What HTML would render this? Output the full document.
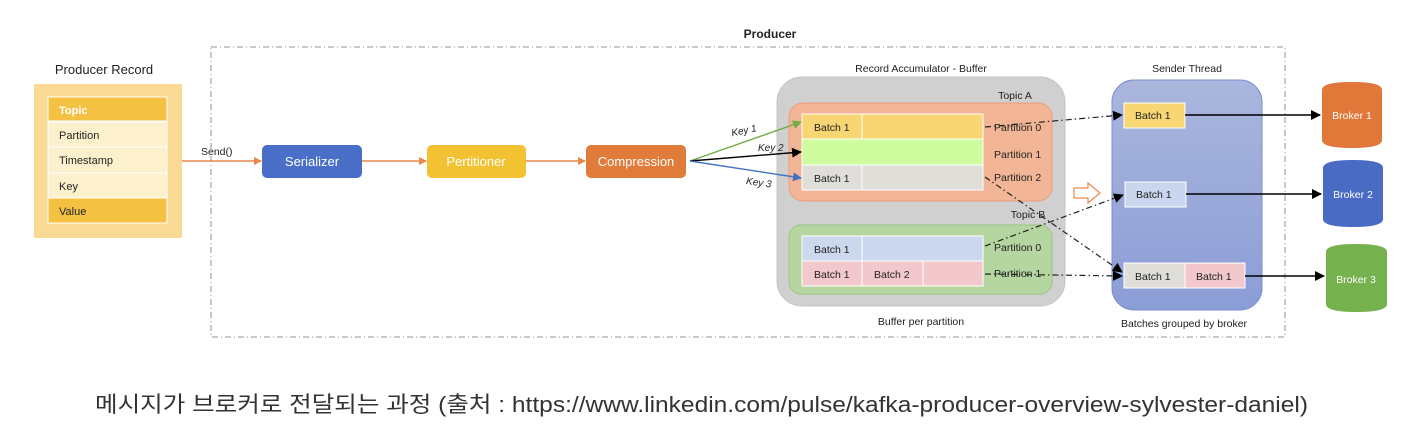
<!DOCTYPE html>
<html><head><meta charset="utf-8"><style>
html,body{margin:0;padding:0;background:#fff;}
svg{display:block;font-family:"Liberation Sans","Noto Sans CJK KR",sans-serif;}
</style></head><body>
<svg width="1402" height="432" viewBox="0 0 1402 432" xmlns="http://www.w3.org/2000/svg">
<defs>
<marker id="ao" markerWidth="8" markerHeight="8" refX="7" refY="4" orient="auto" markerUnits="userSpaceOnUse"><path d="M0,0 L8,4 L0,8z" fill="#e9874a"/></marker>
<marker id="ab" markerWidth="10" markerHeight="10" refX="9" refY="5" orient="auto" markerUnits="userSpaceOnUse"><path d="M0,0 L10,5 L0,10z" fill="#000"/></marker>
<marker id="ag" markerWidth="9" markerHeight="9" refX="8" refY="4.5" orient="auto" markerUnits="userSpaceOnUse"><path d="M0,0 L9,4.5 L0,9z" fill="#70ad47"/></marker>
<marker id="abl" markerWidth="9" markerHeight="9" refX="8" refY="4.5" orient="auto" markerUnits="userSpaceOnUse"><path d="M0,0 L9,4.5 L0,9z" fill="#4472c4"/></marker>
<linearGradient id="gs" x1="0" y1="0" x2="0" y2="1"><stop offset="0" stop-color="#aab6dd"/><stop offset="1" stop-color="#8b9dd6"/></linearGradient>
</defs>

<rect x="211" y="47" width="1074" height="290" fill="none" stroke="#aaa" stroke-width="1.3" stroke-dasharray="6,3,1,3"/>
<text x="770" y="38" font-size="12" font-weight="bold" text-anchor="middle" fill="#222">Producer</text>

<text x="104" y="74" font-size="13" text-anchor="middle" fill="#222">Producer Record</text>
<rect x="34" y="84" width="148" height="154" fill="#f9d993"/>
<rect x="48" y="97" width="119" height="24" fill="#f4c143" stroke="#fff"/>
<rect x="48" y="122" width="119" height="25" fill="#fdf0cc" stroke="#fff"/>
<rect x="48" y="147" width="119" height="26" fill="#fdf0cc" stroke="#fff"/>
<rect x="48" y="173" width="119" height="25" fill="#fdf0cc" stroke="#fff"/>
<rect x="48" y="198" width="119" height="25" fill="#f4c143" stroke="#fff"/>
<g font-size="11" fill="#222">
<text x="59" y="114" font-weight="bold" fill="#fff">Topic</text>
<text x="59" y="139">Partition</text>
<text x="59" y="164">Timestamp</text>
<text x="59" y="190">Key</text>
<text x="59" y="215">Value</text>
</g>

<text x="201" y="155" font-size="10.5" fill="#222">Send()</text>
<line x1="182" y1="161" x2="261" y2="161" stroke="#e9874a" stroke-width="1.5" marker-end="url(#ao)"/>
<rect x="262" y="145" width="100" height="33" rx="5" fill="#4a6fc9"/>
<text x="312" y="166" font-size="13" fill="#fff" text-anchor="middle">Serializer</text>
<line x1="362" y1="161" x2="426" y2="161" stroke="#e9874a" stroke-width="1.5" marker-end="url(#ao)"/>
<rect x="427" y="145" width="99" height="33" rx="5" fill="#f2c232"/>
<text x="476" y="166" font-size="13" fill="#fff" text-anchor="middle">Pertitioner</text>
<line x1="526" y1="161" x2="585" y2="161" stroke="#e9874a" stroke-width="1.5" marker-end="url(#ao)"/>
<rect x="586" y="145" width="100" height="33" rx="5" fill="#e07b3a"/>
<text x="636" y="166" font-size="13" fill="#fff" text-anchor="middle">Compression</text>

<text x="921" y="72" font-size="10.5" text-anchor="middle" fill="#222">Record Accumulator - Buffer</text>
<rect x="777" y="77" width="288" height="229" rx="25" fill="#d0d0d0" stroke="#c4c4c4"/>
<text x="1015" y="99" font-size="10.5" text-anchor="middle" fill="#222">Topic A</text>
<rect x="789" y="103" width="263" height="98" rx="14" fill="#f2b595" stroke="#e9a07a"/>
<rect x="802" y="114" width="60" height="25" fill="#f8d673" stroke="#fff"/>
<rect x="862" y="114" width="121" height="25" fill="#f8d673" stroke="#fff"/>
<rect x="802" y="139" width="181" height="26" fill="#cdfd9e" stroke="#fff"/>
<rect x="802" y="165" width="60" height="25" fill="#e0ded8" stroke="#fff"/>
<rect x="862" y="165" width="121" height="25" fill="#e0ded8" stroke="#fff"/>
<text x="1028" y="218" font-size="10.5" text-anchor="middle" fill="#222">Topic B</text>
<rect x="789" y="225" width="263" height="69" rx="12" fill="#b5d6a0" stroke="#9cc485"/>
<rect x="802" y="236" width="60" height="25" fill="#ccd8ee" stroke="#fff"/>
<rect x="862" y="236" width="121" height="25" fill="#ccd8ee" stroke="#fff"/>
<rect x="802" y="261" width="60" height="25" fill="#f3c8cc" stroke="#fff"/>
<rect x="862" y="261" width="61" height="25" fill="#f3c8cc" stroke="#fff"/>
<rect x="923" y="261" width="60" height="25" fill="#f3c8cc" stroke="#fff"/>
<g font-size="10.5" fill="#222">
<text x="814" y="131">Batch 1</text>
<text x="814" y="182">Batch 1</text>
<text x="814" y="253">Batch 1</text>
<text x="814" y="278">Batch 1</text>
<text x="874" y="278">Batch 2</text>
<text x="994" y="131">Partition 0</text>
<text x="994" y="158">Partition 1</text>
<text x="994" y="181">Partition 2</text>
<text x="994" y="251">Partition 0</text>
<text x="994" y="277">Partition 1</text>
</g>
<text x="921" y="325" font-size="10.5" text-anchor="middle" fill="#222">Buffer per partition</text>

<line x1="690" y1="161" x2="801" y2="122" stroke="#70ad47" stroke-width="1.4" marker-end="url(#ag)"/>
<line x1="690" y1="161" x2="801" y2="152" stroke="#000" stroke-width="1.4" marker-end="url(#ab)"/>
<line x1="690" y1="161" x2="801" y2="178" stroke="#4472c4" stroke-width="1.4" marker-end="url(#abl)"/>
<g font-size="10" fill="#222" font-style="italic">
<text x="731" y="134" transform="rotate(-12 743 130)">Key 1</text>
<text x="758" y="151">Key 2</text>
<text x="746" y="186" transform="rotate(8 760 183)">Key 3</text>
</g>

<text x="1187" y="72" font-size="10.5" text-anchor="middle" fill="#222">Sender Thread</text>
<rect x="1112" y="80" width="150" height="230" rx="22" fill="url(#gs)" stroke="#7a8fd0"/>
<rect x="1124" y="103" width="61" height="25" fill="#f8d673" stroke="#fff"/>
<rect x="1125" y="182" width="61" height="25" fill="#cad6ee" stroke="#fff"/>
<rect x="1124" y="263" width="61" height="25" fill="#e0ded8" stroke="#fff"/>
<rect x="1185" y="263" width="60" height="25" fill="#f3c8cc" stroke="#fff"/>
<g font-size="10.5" fill="#222">
<text x="1135" y="119">Batch 1</text>
<text x="1136" y="198">Batch 1</text>
<text x="1135" y="280">Batch 1</text>
<text x="1196" y="280">Batch 1</text>
</g>
<text x="1184" y="327" font-size="10.5" text-anchor="middle" fill="#222">Batches grouped by broker</text>

<g stroke="#222" stroke-width="1.2" stroke-dasharray="6,3,1.5,3" fill="none">
<line x1="985" y1="127" x2="1122" y2="115" marker-end="url(#ab)"/>
<line x1="985" y1="177" x2="1122" y2="272" marker-end="url(#ab)"/>
<line x1="985" y1="246" x2="1123" y2="195" marker-end="url(#ab)"/>
<line x1="985" y1="274" x2="1122" y2="276" marker-end="url(#ab)"/>
</g>
<path d="M1074,188 L1088,188 L1088,183 L1100,193 L1088,203 L1088,198 L1074,198z" fill="#fff" stroke="#e9874a" stroke-width="1.2"/>

<line x1="1185" y1="115" x2="1320" y2="115" stroke="#000" stroke-width="1.4" marker-end="url(#ab)"/>
<line x1="1186" y1="194" x2="1321" y2="194" stroke="#000" stroke-width="1.4" marker-end="url(#ab)"/>
<line x1="1245" y1="276" x2="1324" y2="276" stroke="#000" stroke-width="1.4" marker-end="url(#ab)"/>

<g>
<path d="M1322,90 Q1322,82 1352,82 Q1382,82 1382,90 L1382,140 Q1382,148 1352,148 Q1322,148 1322,140z" fill="#e2773a"/>
<text x="1352" y="119" font-size="10.5" fill="#fff" text-anchor="middle">Broker 1</text>
<path d="M1323,168 Q1323,160 1353,160 Q1383,160 1383,168 L1383,219 Q1383,227 1353,227 Q1323,227 1323,219z" fill="#4a6bc4"/>
<text x="1353" y="198" font-size="10.5" fill="#fff" text-anchor="middle">Broker 2</text>
<path d="M1326,252 Q1326,244 1356,244 Q1387,244 1387,252 L1387,304 Q1387,312 1356,312 Q1326,312 1326,304z" fill="#75b14d"/>
<text x="1356" y="283" font-size="10.5" fill="#fff" text-anchor="middle">Broker 3</text>
</g>

<text x="95" y="412" font-size="22" fill="#333" textLength="1213" lengthAdjust="spacingAndGlyphs">메시지가 브로커로 전달되는 과정 (출처 : https://www.linkedin.com/pulse/kafka-producer-overview-sylvester-daniel)</text>
</svg>
</body></html>
